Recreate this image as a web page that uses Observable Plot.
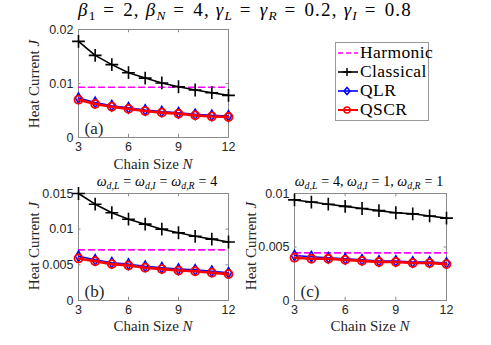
<!DOCTYPE html>
<html>
<head>
<meta charset="utf-8">
<script src="https://cdn.jsdelivr.net/npm/d3@7"></script>
<script src="https://cdn.jsdelivr.net/npm/@observablehq/plot@0.6"></script>
<style>
  html, body { margin: 0; padding: 0; background: #fff; }
  #root { position: relative; width: 491px; height: 345px; overflow: hidden; background: #fff; }
  .abs { position: absolute; }
  .lbl { position: absolute; font-family: "Liberation Serif", "DejaVu Serif", serif; color: #262626; white-space: nowrap; transform: translate(-50%, -50%); }
  .ylbl { transform: translate(-50%, -50%) rotate(-90deg); }
  .title { font-size: 19px; letter-spacing: 1.2px; color: #000; }
  .title .eq { margin: 0 0.42em; }
  .ptitle { font-size: 14px; color: #000; }
  .axl { font-size: 15px; }
  .eq { display: inline-block; margin: 0 0.28em; font-style: normal; }
  sub { font-size: 70%; vertical-align: -0.3em; line-height: 0; letter-spacing: 0; }
  #legend { position: absolute; left: 335px; top: 42px; width: 92px; height: 77px; border: 1px solid #999; background: #fff;
            font-family: "Liberation Serif", "DejaVu Serif", serif; font-size: 17.5px; letter-spacing: 0.4px; color: #000; }
  #legend .row { position: absolute; left: 1px; height: 19px; display: flex; align-items: center; }
  #legend svg { display: block; }
</style>
</head>
<body>
<div id="root"></div>
<script>
// ---------- data ----------
const chainSize = [3, 4, 5, 6, 7, 8, 9, 10, 11, 12];
const xTicks = [3, 6, 9, 12];

// panel (a)
const aHarmonic  = [0.0093, 0.0093, 0.0093, 0.0093, 0.0093, 0.0093, 0.0093, 0.0093, 0.0093, 0.0093];
const aClassical = [0.0178, 0.0152, 0.0135, 0.0120, 0.0110, 0.0101, 0.0094, 0.0088, 0.0083, 0.0078];
const aQLR       = [0.0073, 0.0065, 0.0059, 0.0055, 0.0051, 0.0048, 0.0046, 0.0043, 0.0041, 0.0040];
const aQSCR      = [0.0070, 0.0062, 0.0057, 0.0053, 0.0049, 0.0046, 0.0044, 0.0041, 0.0039, 0.0038];
const aYTicks = [0, 0.01, 0.02];

// panel (b)
const bHarmonic  = [0.0071, 0.0071, 0.0071, 0.0071, 0.0071, 0.0071, 0.0071, 0.0071, 0.0071, 0.0071];
const bClassical = [0.0150, 0.0135, 0.0123, 0.0114, 0.0107, 0.0100, 0.0095, 0.0090, 0.0086, 0.0082];
const bQLR       = [0.0062, 0.0057, 0.0053, 0.0051, 0.0048, 0.0046, 0.0044, 0.0043, 0.0041, 0.0039];
const bQSCR      = [0.0059, 0.0055, 0.0051, 0.0049, 0.0046, 0.0044, 0.0042, 0.0041, 0.0039, 0.0037];
const bYTicks = [0, 0.005, 0.01, 0.015];

// panel (c)
const cHarmonic  = [0.00445, 0.00445, 0.00445, 0.00445, 0.00445, 0.00445, 0.00445, 0.00445, 0.00445, 0.00445];
const cClassical = [0.0094, 0.0092, 0.0090, 0.0088, 0.0086, 0.0084, 0.0082, 0.0081, 0.0079, 0.0077];
const cQLR       = [0.0042, 0.0041, 0.0040, 0.0039, 0.0038, 0.0037, 0.0037, 0.0036, 0.0036, 0.0035];
const cQSCR      = [0.0040, 0.0039, 0.0039, 0.0038, 0.0037, 0.0036, 0.0036, 0.0035, 0.0035, 0.0034];
const cYTicks = [0, 0.005, 0.01];

const colors = { Harmonic: "#ff00ff", Classical: "#000000", QLR: "#0000ff", QSCR: "#ff0000" };

// ---------- helpers ----------
const root = document.getElementById("root");
const serif = "'Liberation Serif', 'DejaVu Serif', serif";

function rows(ys) { return chainSize.map((n, i) => ({ N: n, J: ys[i] })); }

function panel({ left, top, width, height, mL, mR, mT, mB, yMax, yTicks, harmonic, classical, qlr, qscr, tag }) {
  const tickLen = yMax * 0.03;
  const chart = Plot.plot({
    width, height,
    marginLeft: mL, marginRight: mR, marginTop: mT, marginBottom: mB,
    style: { fontFamily: "'Liberation Sans', Arial, sans-serif", fontSize: "12.5px", color: "#262626", background: "transparent", overflow: "visible" },
    x: { domain: [3, 12], label: null },
    y: { domain: [0, yMax], label: null },
    marks: [
      Plot.frame({ stroke: "#8a8a8a", strokeWidth: 1 }),
      Plot.axisX({ anchor: "bottom", ticks: xTicks, tickSize: 0, tickPadding: 5, label: null }),
      Plot.axisY({ anchor: "left", ticks: yTicks, tickSize: 0, tickPadding: 5, tickFormat: d => String(d), label: null }),
      Plot.ruleX(xTicks, { x: d => d, y1: 0, y2: tickLen, stroke: "#8a8a8a" }),
      Plot.ruleX(xTicks, { x: d => d, y1: yMax - tickLen, y2: yMax, stroke: "#8a8a8a" }),
      Plot.ruleY(yTicks, { y: d => d, x1: 3, x2: 3.15, stroke: "#8a8a8a" }),
      Plot.ruleY(yTicks, { y: d => d, x1: 11.85, x2: 12, stroke: "#8a8a8a" }),
      Plot.line(rows(harmonic), { x: "N", y: "J", stroke: colors.Harmonic, strokeWidth: 1.6, strokeDasharray: "6,4" }),
      Plot.line(rows(classical), { x: "N", y: "J", stroke: colors.Classical, strokeWidth: 1.6 }),
      Plot.dot(rows(classical), { x: "N", y: "J", symbol: "plus", r: 4.2, stroke: colors.Classical, strokeWidth: 1.6 }),
      Plot.line(rows(qlr), { x: "N", y: "J", stroke: colors.QLR, strokeWidth: 1.5 }),
      Plot.dot(rows(qlr), { x: "N", y: "J", symbol: "diamond", r: 3.2, stroke: colors.QLR, fill: "none", strokeWidth: 1.5 }),
      Plot.line(rows(qscr), { x: "N", y: "J", stroke: colors.QSCR, strokeWidth: 2.6 }),
      Plot.dot(rows(qscr), { x: "N", y: "J", symbol: "circle", r: 4, stroke: colors.QSCR, fill: "none", strokeWidth: 1.8 }),
      Plot.text([tag], { frameAnchor: "bottom-left", dx: 6, dy: -4, text: d => d, fontFamily: serif, fontSize: 17, fill: "#262626" })
    ]
  });
  const holder = document.createElement("div");
  holder.className = "abs";
  holder.style.left = left + "px";
  holder.style.top = top + "px";
  holder.appendChild(chart);
  root.appendChild(holder);
}

function label(html, x, y, cls) {
  const d = document.createElement("div");
  d.className = "lbl " + cls;
  d.style.left = x + "px";
  d.style.top = y + "px";
  d.innerHTML = html;
  root.appendChild(d);
}

// ---------- panels ----------
panel({ left: 0, top: 20, width: 240, height: 135, mL: 78, mR: 12, mT: 9, mB: 18, yMax: 0.02, yTicks: aYTicks,
        harmonic: aHarmonic, classical: aClassical, qlr: aQLR, qscr: aQSCR, tag: "(a)" });
panel({ left: 0, top: 185, width: 240, height: 133, mL: 78, mR: 12, mT: 8, mB: 18, yMax: 0.015, yTicks: bYTicks,
        harmonic: bHarmonic, classical: bClassical, qlr: bQLR, qscr: bQSCR, tag: "(b)" });
panel({ left: 240, top: 185, width: 216, height: 133, mL: 54, mR: 10, mT: 8, mB: 18, yMax: 0.01, yTicks: cYTicks,
        harmonic: cHarmonic, classical: cClassical, qlr: cQLR, qscr: cQSCR, tag: "(c)" });

// ---------- text ----------
const EQ = '<span class="eq">=</span>';
label(`<i>β</i><sub>1</sub>${EQ}2, <i>β<sub>N</sub></i>${EQ}4, <i>γ<sub>L</sub></i>${EQ}<i>γ<sub>R</sub></i>${EQ}0.2, <i>γ<sub>I</sub></i>${EQ}0.8`, 245, 10, "title");
label(`<i>ω<sub>d,L</sub></i>${EQ}<i>ω<sub>d,I</sub></i>${EQ}<i>ω<sub>d,R</sub></i>${EQ}4`, 157, 182, "ptitle");
label(`<i>ω<sub>d,L</sub></i>${EQ}4, <i>ω<sub>d,I</sub></i>${EQ}1, <i>ω<sub>d,R</sub></i>${EQ}1`, 369, 182, "ptitle");

label("Chain Size <i>N</i>", 153, 164, "axl");
label("Chain Size <i>N</i>", 153, 326, "axl");
label("Chain Size <i>N</i>", 370, 326, "axl");

label("Heat Current <i>J</i>", 34, 84, "axl ylbl");
label("Heat Current <i>J</i>", 34, 246, "axl ylbl");
label("Heat Current <i>J</i>", 251, 246, "axl ylbl");

// ---------- legend ----------
const legend = document.createElement("div");
legend.id = "legend";
const entries = [
  { name: "Harmonic", dash: "5,3", symbol: null },
  { name: "Classical", dash: null, symbol: "plus" },
  { name: "QLR", dash: null, symbol: "diamond" },
  { name: "QSCR", dash: null, symbol: "circle" }
];
const rowTops = [0, 19, 38, 57];
entries.forEach((e, i) => {
  const row = document.createElement("div");
  row.className = "row";
  row.style.top = rowTops[i] + "px";
  const c = colors[e.name];
  let sym = "";
  if (e.symbol === "plus") sym = `<path d="M10,6v8M6,10h8" stroke="${c}" stroke-width="1.5"/>`;
  if (e.symbol === "diamond") sym = `<path d="M10,6.5L13,10L10,13.5L7,10Z" fill="none" stroke="${c}" stroke-width="1.5"/>`;
  if (e.symbol === "circle") sym = `<circle cx="10" cy="10" r="3" fill="none" stroke="${c}" stroke-width="1.5"/>`;
  row.innerHTML = `<svg width="22" height="20"><line x1="1" y1="10" x2="21" y2="10" stroke="${c}" stroke-width="${e.name === "QSCR" ? 2 : 1.6}" ${e.dash ? `stroke-dasharray="${e.dash}"` : ""}/>${sym}</svg><span style="margin-left:1px">${e.name}</span>`;
  legend.appendChild(row);
});
root.appendChild(legend);
</script>
</body>
</html>
